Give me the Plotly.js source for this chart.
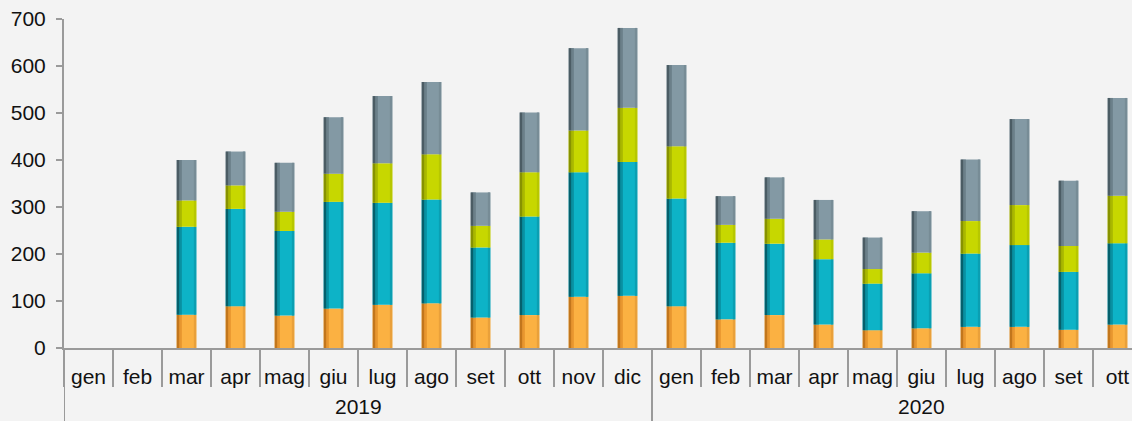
<!DOCTYPE html>
<html>
<head>
<meta charset="utf-8">
<script src="https://cdn.plot.ly/plotly-3.0.1.min.js"></script>
<style>
html,body{margin:0;padding:0;background:#f3f3f3;}
#chart{width:1132px;height:421px;}
</style>
</head>
<body>
<div id="chart"></div>
<script>
// Categories (the 2020 "nov" category lies beyond the cropped right edge)
const yearLabels = ['2019','2019','2019','2019','2019','2019','2019','2019','2019','2019','2019','2019',
                    '2020','2020','2020','2020','2020','2020','2020','2020','2020','2020','2020'];
const monthLabels = ['gen','feb','mar','apr','mag','giu','lug','ago','set','ott','nov','dic',
                     'gen','feb','mar','apr','mag','giu','lug','ago','set','ott','nov'];

// Series values (stacked, bottom to top)
const seriesOrange = [null,null,71,89,69,84,92,95,65,70,109,111, 89,61,70,50,38,42,45,45,39,50,null];
const seriesTeal   = [null,null,187,207,180,227,217,221,149,210,265,285, 229,163,152,139,99,117,156,174,123,173,null];
const seriesYellow = [null,null,56,50,41,60,84,96,46,94,89,115, 111,38,53,42,31,44,69,85,55,101,null];
const seriesGray   = [null,null,86,72,104,120,143,154,71,127,175,170, 173,61,88,84,67,88,131,183,139,208,null];

const yTicks = [0,100,200,300,400,500,600,700];

const idx = monthLabels.map((_, i) => i);
const seriesList = [seriesOrange, seriesTeal, seriesYellow, seriesGray];
// colours: main, dark left edge, mid, right edge
const palette = [
  ['#fbb142','#c2761c','#e7962f','#e9a03a'],
  ['#0db3c7','#05606c','#0990a1','#0a9fb2'],
  ['#c7d700','#879200','#a9b700','#b7c700'],
  ['#8399a4','#4b5c64','#6b7f89','#778c96']
];
// explicit stacking bases
const bases = [];
let running = idx.map(() => 0);
seriesList.forEach(s => {
  bases.push(running.slice());
  running = running.map((v, i) => v + (s[i] || 0));
});

const data = [];
const W = 0.4;
const strips = [ // [colourIndex, offset, width]
  [0, -W/2, W],
  [2, -W/2 + 0.045, 0.06],
  [1, -W/2, 0.05],
  [3, W/2 - 0.05, 0.05]
];
seriesList.forEach((s, k) => {
  strips.forEach(([ci, off, w]) => {
    data.push({type:'bar', x:idx, y:s, base:bases[k], width:w, offset:off,
      marker:{color:palette[k][ci], line:{width:0}},
      hoverinfo:'y', showlegend:false});
  });
});

// year group centres and boundaries
const years = [...new Set(yearLabels)];
const annotations = [];
const shapes = [];
years.forEach(yr => {
  const ii = idx.filter(i => yearLabels[i] === yr);
  const first = ii[0], last = ii[ii.length - 1];
  annotations.push({x:(first + last) / 2, y:-0.219, xref:'x', yref:'paper', text:yr,
    showarrow:false, xanchor:'center', yanchor:'bottom', font:{size:21, color:'#111'}});
  shapes.push({type:'line', xref:'x', yref:'paper', x0:first - 0.5, x1:first - 0.5, y0:0, y1:-0.35,
    line:{color:'#9a9a9a', width:2}});
  shapes.push({type:'line', xref:'x', yref:'paper', x0:last + 0.5, x1:last + 0.5, y0:0, y1:-0.35,
    line:{color:'#9a9a9a', width:2}});
});

const layout = {
  width:1132, height:421,
  margin:{l:64, r:0, t:19, b:73, pad:0},
  paper_bgcolor:'#f3f3f3', plot_bgcolor:'rgba(0,0,0,0)',
  barmode:'overlay',
  font:{family:'Liberation Sans, Arial, sans-serif', size:21, color:'#111'},
  xaxis:{range:[-0.5,21.296], tickvals:idx, ticktext:monthLabels, tickangle:0,
    showline:true, linecolor:'#9a9a9a', linewidth:2, ticks:'', ticklabelstandoff:9,
    minor:{tick0:-0.5, dtick:1, ticks:'outside', ticklen:37, tickcolor:'#9a9a9a', tickwidth:2, showgrid:false},
    tickfont:{size:21, color:'#111'}, showgrid:false, zeroline:false},
  yaxis:{range:[0,700], tickvals:yTicks, showline:true, linecolor:'#9a9a9a', linewidth:2,
    ticks:'outside', ticklen:6, tickcolor:'#9a9a9a', tickwidth:2, showgrid:false, zeroline:false,
    ticklabelstandoff:6, tickfont:{size:21, color:'#111'}},
  annotations:annotations,
  shapes:shapes
};
Plotly.newPlot('chart', data, layout, {displayModeBar:false, staticPlot:true});
</script>
</body>
</html>
